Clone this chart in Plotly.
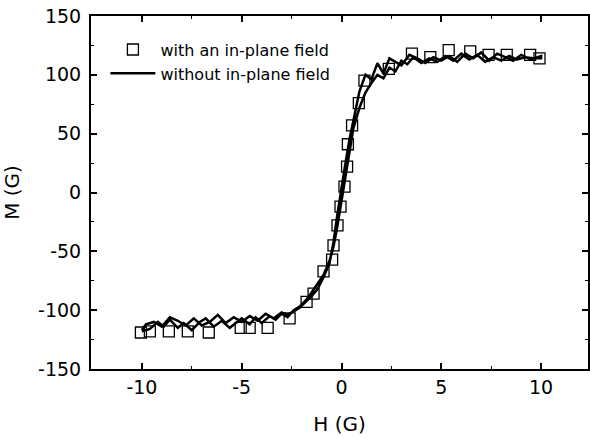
import plotly.graph_objects as go

# Square markers: "with an in-plane field"
sq_h = [-10.05, -9.6, -8.65, -7.7, -6.65, -5.05, -4.6, -3.7, -2.6, -1.75, -1.4, -0.9,
        -0.47, -0.4, -0.2, -0.05, 0.15, 0.28, 0.32, 0.53, 0.87, 1.15, 2.37, 3.53,
        4.45, 5.37, 6.45, 7.37, 8.28, 9.45, 9.92]
sq_m = [-119, -118, -118, -118, -119, -115, -115, -115, -107, -93, -86, -67,
        -57, -45, -28, -12, 5, 22, 41, 57, 76, 95, 105, 118,
        115, 121, 120, 117, 117, 117, 114]

# Solid line: "without in-plane field" (ascending then descending sweep)
asc_h = [-10, -9.6, -9.2, -8.9, -8.6, -8.2, -7.9, -7.5, -7.1, -6.8, -6.4, -6.0, -5.6, -5.3,
         -5.0, -4.6, -4.3, -4.0, -3.6, -3.3, -3.0, -2.7, -2.4, -2.1, -1.8, -1.5, -1.2, -0.9,
         -0.6, -0.4, -0.2, 0.0, 0.2, 0.4, 0.6, 0.9, 1.2, 1.5, 1.8, 2.1, 2.4, 2.7, 3.0, 3.3,
         3.6, 4.0, 4.4, 4.8, 5.2, 5.6, 6.0, 6.4, 6.8, 7.2, 7.6, 8.0, 8.4, 8.8, 9.2, 9.6, 10.0]
asc_m = [-118, -116, -110, -114, -108, -115, -111, -117, -110, -107, -114, -109, -115, -111,
         -107, -112, -106, -111, -105, -108, -103, -106, -100, -97, -92, -85, -78, -70,
         -58, -46, -28, -8, 15, 35, 55, 72, 85, 93, 100, 97, 106, 103, 112, 109,
         115, 110, 114, 111, 116, 112, 118, 113, 117, 111, 115, 112, 116, 113, 115, 114, 114]
desc_h = [10, 9.5, 9.0, 8.6, 8.2, 7.8, 7.4, 7.0, 6.6, 6.2, 5.8, 5.4, 5.0, 4.6, 4.2, 3.8,
          3.4, 3.0, 2.7, 2.4, 2.1, 1.8, 1.5, 1.2, 0.9, 0.6, 0.4, 0.2, 0.0, -0.2, -0.4,
          -0.6, -0.9, -1.2, -1.5, -1.8, -2.1, -2.4, -2.7, -3.0, -3.4, -3.8, -4.2, -4.6,
          -5.0, -5.4, -5.8, -6.2, -6.6, -7.0, -7.4, -7.8, -8.2, -8.6, -9.0, -9.4, -9.8, -10]
desc_m = [116, 113, 117, 112, 115, 118, 112, 119, 114, 118, 111, 116, 112, 115, 110, 114,
          117, 108, 111, 114, 101, 110, 96, 100, 86, 62, 45, 25, 5, -18, -42,
          -60, -72, -82, -88, -93, -98, -101, -104, -102, -107, -103, -109, -105,
          -110, -106, -111, -104, -110, -113, -107, -113, -109, -106, -114, -110, -112, -117]

x_ticks = [-10, -5, 0, 5, 10]
y_ticks = [-150, -100, -50, 0, 50, 100, 150]

FONT = "DejaVu Sans, Liberation Sans, Arial, sans-serif"

fig = go.Figure()
fig.add_trace(go.Scatter(
    x=sq_h, y=sq_m, mode="markers", name="with an in-plane field",
    marker=dict(symbol="square-open", size=11, color="black", line=dict(width=1.3, color="black")),
))
fig.add_trace(go.Scatter(
    x=asc_h + desc_h, y=asc_m + desc_m, mode="lines", name="without in-plane field",
    line=dict(color="black", width=2.5),
))

axis_common = dict(
    showline=True, linecolor="black", linewidth=2, mirror="ticks",
    ticks="inside", ticklen=6, tickwidth=1.5, tickcolor="black",
    showgrid=False, zeroline=False, automargin=False,
    tickfont=dict(family=FONT, size=19, color="black"),
)

fig.update_xaxes(
    range=[-12.55, 12.35], tickvals=x_ticks, ticktext=[str(v) for v in x_ticks],
    minor=dict(ticks="inside", ticklen=3, tickwidth=1, tickcolor="black", dtick=2.5, tick0=0),
    title=dict(text="H (G)", font=dict(family=FONT, size=20, color="black"), standoff=20),
    **axis_common,
)
fig.update_yaxes(
    range=[-150, 150], tickvals=y_ticks, ticktext=[str(v) for v in y_ticks],
    minor=dict(ticks="inside", ticklen=3, tickwidth=1, tickcolor="black", dtick=25, tick0=0),
    title=dict(text="M (G)", font=dict(family=FONT, size=20, color="black"), standoff=15),
    ticklabelstandoff=4,
    **axis_common,
)

fig.update_layout(
    width=590, height=439,
    margin=dict(l=91, r=2, t=16, b=70),
    plot_bgcolor="white", paper_bgcolor="white",
    font=dict(family=FONT, color="black"),
    hovermode=False,
    legend=dict(
        x=0.029, y=0.953, xanchor="left", yanchor="top",
        font=dict(family=FONT, size=16, color="black"),
        bgcolor="rgba(0,0,0,0)", itemwidth=45, tracegroupgap=0,
    ),
)

fig.write_html(
    "out.html",
    config={"displayModeBar": False},
    post_script="document.body.style.margin='0';document.body.style.overflow='hidden';",
)
